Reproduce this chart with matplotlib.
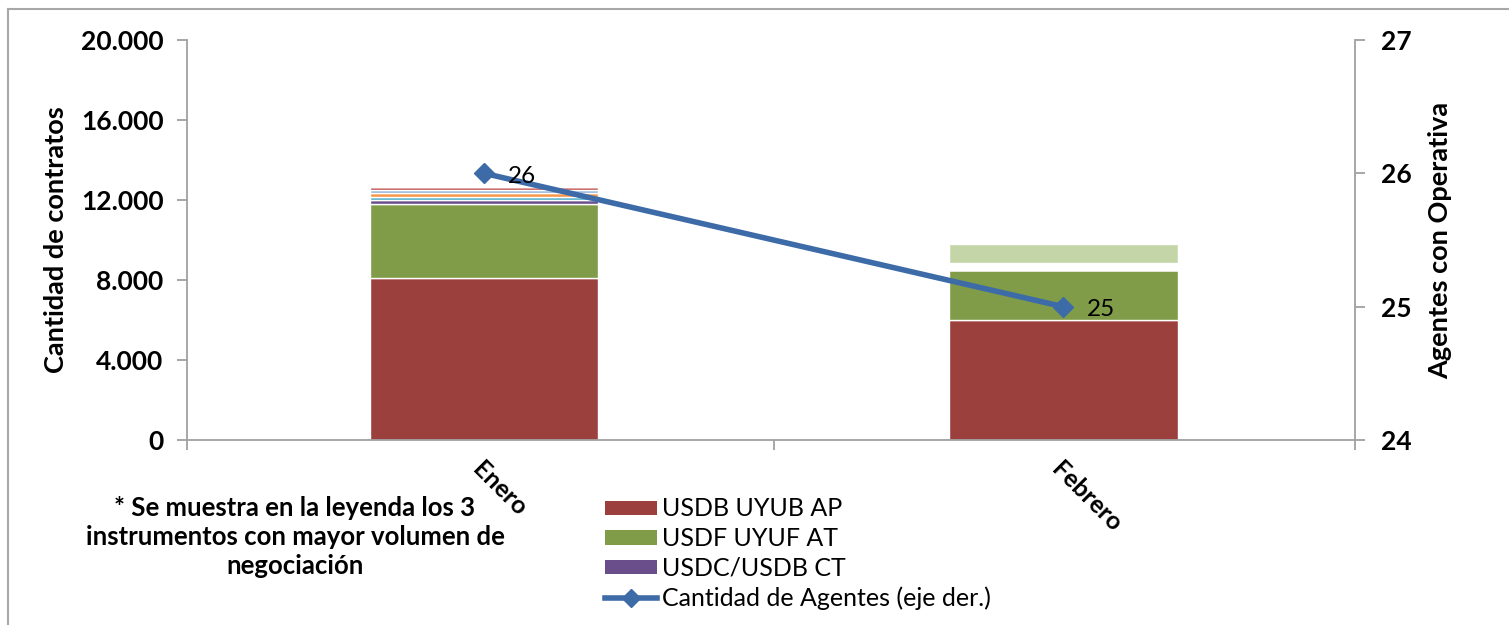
import numpy as np
import matplotlib.pyplot as plt
import matplotlib.transforms as mtrans
from matplotlib.patches import Patch
from matplotlib.lines import Line2D
from matplotlib.ticker import FuncFormatter, MultipleLocator, FixedLocator

plt.rcParams['font.family'] = ['Lato', 'DejaVu Sans']

# ================= DATA =================
meses = ["Enero", "Febrero"]
instrumentos = ["USDB UYUB AP", "USDF UYUF AT", "USDC/USDB CT",
                "Instrumento 4", "Instrumento 5", "Instrumento 6",
                "Instrumento 7", "Instrumento 8", "Instrumento 9"]
contratos_enero = [8100, 3685, 200, 180, 180, 170, 150, 0, 0]
contratos_febrero = [6000, 2500, 0, 0, 0, 0, 0, 335, 950]
agentes = [26, 25]

colores = ["#9C403E", "#809C48", "#6A4E8C", "#4BACC6", "#F79646",
           "#95B3D7", "#C0504D", "#FFFFFF", "#C4D6A8"]
COLOR_LINEA = "#3D6BA8"
GRIS = "#A0A0A0"
# ========================================

fig = plt.figure(figsize=(15.09, 6.25), dpi=100)
ax = fig.add_axes([187 / 1509, 1 - 440 / 625, (1355 - 187) / 1509, 400 / 625])

x = np.arange(len(meses))
valores = np.array([contratos_enero, contratos_febrero]).T
base = np.zeros(len(meses))
for nombre, vals, col in zip(instrumentos, valores, colores):
    ax.bar(x, vals, width=0.395, bottom=base, color=col,
           edgecolor="white", linewidth=1, label=nombre)
    base += vals

XL = (-0.513, 1.504)
ax.set_xlim(*XL)
ax.set_ylim(0, 20000)
ax.yaxis.set_major_locator(MultipleLocator(4000))
ax.yaxis.set_major_formatter(FuncFormatter(lambda v, p: f"{int(v):,}".replace(",", ".")))
ax.set_xticks(x)
ax.set_xticklabels(meses, rotation=-45, ha="left", va="top",
                   rotation_mode="anchor", fontsize=18, fontweight="bold")
desplaza = mtrans.ScaledTranslation(6 / 100, 2 / 100, fig.dpi_scale_trans)
for lab in ax.get_xticklabels():
    lab.set_transform(lab.get_transform() + desplaza)
ax.xaxis.set_minor_locator(FixedLocator([XL[0], 0.5, XL[1]]))
ax.tick_params(axis="x", which="major", length=0, pad=13)
ax.tick_params(axis="x", which="minor", length=7, color=GRIS, width=1.3)
ax.tick_params(axis="y", length=7, color=GRIS, width=1.3, pad=10)
for lab in ax.get_yticklabels():
    lab.set_fontsize(19)
    lab.set_fontweight("bold")

for s in ["top", "right"]:
    ax.spines[s].set_visible(False)
for s in ["left", "bottom"]:
    ax.spines[s].set_color(GRIS)
    ax.spines[s].set_linewidth(1.3)

ax.set_ylabel("Cantidad de contratos", fontsize=19.5, fontweight="bold")
ax.yaxis.set_label_coords(-0.102, 0.5)

ax2 = ax.twinx()
ax2.set_ylim(24, 27)
ax2.yaxis.set_major_locator(MultipleLocator(1))
ax2.plot(x, agentes, color=COLOR_LINEA, linewidth=4, marker="D",
         markersize=10, label="Cantidad de Agentes (eje der.)")
for xi, a in zip(x, agentes):
    ax2.annotate(str(a), (xi, a), xytext=(17, -2), textcoords="offset points",
                 fontsize=17.5, va="center", ha="left")
for s in ["top", "left", "bottom"]:
    ax2.spines[s].set_visible(False)
ax2.spines["right"].set_color(GRIS)
ax2.spines["right"].set_linewidth(1.3)
ax2.tick_params(axis="y", length=7, color=GRIS, width=1.3, pad=12)
for lab in ax2.get_yticklabels():
    lab.set_fontsize(19)
    lab.set_fontweight("bold")
ax2.set_ylabel("Agentes con Operativa", fontsize=19.5, fontweight="bold")
ax2.yaxis.set_label_coords(1.0625, 0.5)

# leyenda solo con los 3 instrumentos principales
handles = [Patch(facecolor=c) for c in colores[:3]]
handles.append(Line2D([0], [0], color=COLOR_LINEA, linewidth=4, marker="D", markersize=9))
fig.legend(handles, instrumentos[:3] + ["Cantidad de Agentes (eje der.)"],
           loc="upper left", bbox_to_anchor=(592 / 1509, 1 - 485 / 625),
           frameon=False, fontsize=18, handlelength=2.1, handleheight=0.5,
           handletextpad=0.2, labelspacing=0.27, borderpad=0)

fig.text(295 / 1509, 1 - 537 / 625,
         "* Se muestra en la leyenda los 3\ninstrumentos con mayor volumen de\nnegociación",
         ha="center", va="center", fontsize=18.5, fontweight="bold", linespacing=1.27)

# borde exterior
fig.add_artist(Line2D([8 / 1509, 8 / 1509], [0, 1 - 9 / 625], color="#A8A8A8",
                      linewidth=1.5, transform=fig.transFigure))
fig.add_artist(Line2D([8 / 1509, 1], [1 - 9 / 625, 1 - 9 / 625], color="#A8A8A8",
                      linewidth=1.5, transform=fig.transFigure))

fig.savefig("out.png", dpi=100)
